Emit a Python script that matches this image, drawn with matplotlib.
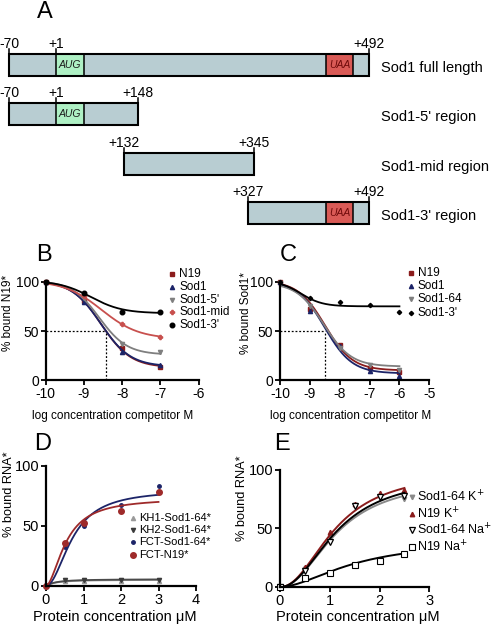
import numpy as np
import matplotlib
matplotlib.use('Agg')
import matplotlib.pyplot as plt
from matplotlib.lines import Line2D
from matplotlib.patches import Rectangle

plt.rcParams['font.family'] = ['Liberation Sans', 'DejaVu Sans']
plt.rcParams['axes.unicode_minus'] = False

# ---------------- Panel A data (schematic, not to scale) ----------------
nt_pos = {'-70': 0, '+1': 47, '+132': 115, '+148': 129, '+327': 239, '+345': 245, '+492': 360}
aug_span = [47, 75]
uaa_span = [317, 344]
construct_names = ['Sod1 full length', "Sod1-5' region", 'Sod1-mid region', "Sod1-3' region"]
construct_start = ['-70', '-70', '+132', '+327']
construct_end = ['+492', '+148', '+345', '+492']
construct_marks = [['-70', '+1', '+492'], ['-70', '+1', '+148'], ['+132', '+345'], ['+327', '+492']]

# ---------------- Panel B data ----------------
b_x = [-10, -9, -8, -7]
b_n19 = [100, 80, 33, 13]
b_sod1 = [100, 79, 29, 16]
b_sod1_5 = [99, 83, 37, 29]
b_sod1_mid = [100, 86, 57, 44]
b_sod1_3 = [100, 89, 69, 69]
# fit parameters: top, bottom, logEC50, hill
b_fit_n19 = [101, 13, -8.55, 1.12]
b_fit_sod1 = [101, 14, -8.56, 1.12]
b_fit_sod1_5 = [101, 26, -8.60, 1.19]
b_fit_sod1_mid = [101, 42, -8.54, 0.89]
b_fit_sod1_3 = [101, 68, -8.82, 1.05]
b_ic50 = -8.43

# ---------------- Panel C data ----------------
c_x = [-10, -9, -8, -7, -6]
c_n19 = [100, 72, 36, 12, 8]
c_sod1 = [100, 70, 35, 9, 4]
c_sod1_64 = [99, 75, 33, 16, 10]
c_sod1_3 = [100, 83, 79, 76, 69]
c_fit_n19 = [101, 10, -8.49, 0.95]
c_fit_sod1 = [100, 7, -8.50, 0.95]
c_fit_sod1_64 = [99, 14, -8.53, 0.95]
c_fit_sod1_3 = [101, 75, -9.3, 1.2]
c_ic50 = -8.49

# ---------------- Panel D data ----------------
d_x = [0, 0.5, 1, 2, 3]
d_kh1 = [0, 4, 4, 4, 4]
d_kh2 = [0, 5, 5, 5, 5]
d_fct_sod1 = [0, 32, 50, 67, 83]
d_fct_n19 = [0, 36, 52, 62, 78]
# fit parameters: Bmax, K, hill
d_fit_kh1 = [5.0, 0.25, 1.2]
d_fit_kh2 = [5.5, 0.25, 1.2]
d_fit_fct_sod1 = [80, 0.714, 2.0]
d_fit_fct_n19 = [73, 0.54, 1.8]

# ---------------- Panel E data ----------------
e_x = [0, 0.5, 1, 1.5, 2, 2.5]
e_sod1_k = [0, 15, 43, 70, 76, 75]
e_n19_k = [0, 17, 47, 71, 80, 83]
e_sod1_na = [0, 14, 38, 69, 77, 78]
e_n19_na = [0, 7.5, 12, 19, 22.5, 28.5]
e_fit_sod1_k = [93, 1.15, 2.1]
e_fit_n19_k = [100, 1.12, 2.1]
e_fit_sod1_na = [96, 1.15, 2.1]
e_fit_n19_na = [40, 1.5, 1.8]


def logistic(x, p):
    top, bottom, c, h = p
    return bottom + (top - bottom) / (1 + 10 ** ((x - c) * h))


def hill(x, p):
    bmax, k, h = p
    return bmax * x ** h / (k ** h + x ** h)


W, H = 491, 624
fig = plt.figure(figsize=(W / 100, H / 100), dpi=100)


def fx(px):
    return px / W


def fy(py):
    return 1 - py / H


# colors
DARKRED = '#8b1c1c'
NAVY = '#1c2468'
GRAY = '#7f7f7f'
LIGHTRED = '#c8504e'
BAR_FILL = '#b8cdd2'
AUG_FILL = '#aef0c4'
UAA_FILL = '#d95a56'

# ---------------- Panel A ----------------
axA = fig.add_axes([0, fy(235), 1, 235 / H])
axA.set_xlim(-9, 482)
row_px = 49.3
axA.set_ylim((235 - 65) / row_px, -65 / row_px)
axA.axis('off')
bh = 22 / row_px
for i, name in enumerate(construct_names):
    s = nt_pos[construct_start[i]]
    e = nt_pos[construct_end[i]]
    axA.add_patch(Rectangle((s, i - bh / 2), e - s, bh, facecolor=BAR_FILL,
                            edgecolor='none', zorder=1))
    if s <= aug_span[0] and e >= aug_span[1]:
        axA.add_patch(Rectangle((aug_span[0], i - bh / 2), aug_span[1] - aug_span[0], bh,
                                facecolor=AUG_FILL, edgecolor='black', lw=1.1, zorder=2))
        axA.text(np.mean(aug_span), i, 'AUG', ha='center', va='center', fontsize=7.5,
                 style='italic', color='#1a1a1a', zorder=3)
    if s <= uaa_span[0] and e >= uaa_span[1]:
        axA.add_patch(Rectangle((uaa_span[0], i - bh / 2), uaa_span[1] - uaa_span[0], bh,
                                facecolor=UAA_FILL, edgecolor='black', lw=1.1, zorder=2))
        axA.text(np.mean(uaa_span), i, 'UAA', ha='center', va='center', fontsize=7.5,
                 style='italic', color='#6e0a0a', zorder=3)
    axA.add_patch(Rectangle((s, i - bh / 2), e - s, bh, facecolor='none',
                            edgecolor='black', lw=1.5, zorder=4))
    for m in construct_marks[i]:
        xm = nt_pos[m]
        axA.plot([xm, xm], [i - bh / 2, i - bh / 2 - 5 / row_px], color='black', lw=1.1,
                 zorder=4)
        axA.text(xm, i - 21 / row_px, m, ha='center', va='center', fontsize=10)
    axA.text(372, i + 3 / row_px, name, ha='left', va='center', fontsize=10.5)

# ---------------- helpers ----------------
def style_axes(ax, tick_fs):
    for sp in ['top', 'right']:
        ax.spines[sp].set_visible(False)
    for sp in ['left', 'bottom']:
        ax.spines[sp].set_linewidth(1.6)
    ax.tick_params(direction='out', length=3.5, width=1.3, labelsize=tick_fs, pad=1.5)


def manual_legend(entries, xm, xt, y0, dy, fs):
    for k, (kw, label) in enumerate(entries):
        y = y0 + k * dy
        fig.lines.append(Line2D([fx(xm)], [fy(y)], transform=fig.transFigure,
                                linestyle='none', **kw))
        fig.text(fx(xt), fy(y), label, ha='left', va='center', fontsize=fs)


# ---------------- Panel B ----------------
axB = fig.add_axes([fx(45.7), fy(380.3), 153 / W, 98.6 / H])
style_axes(axB, 10)
xs = np.linspace(-10, -7, 200)
b_series = [
    (b_n19, b_fit_n19, DARKRED, dict(marker='s', markersize=2.6, color=DARKRED), 'N19'),
    (b_sod1, b_fit_sod1, NAVY, dict(marker='^', markersize=3.0, color=NAVY), 'Sod1'),
    (b_sod1_5, b_fit_sod1_5, GRAY, dict(marker='v', markersize=3.0, color=GRAY), "Sod1-5'"),
    (b_sod1_mid, b_fit_sod1_mid, LIGHTRED, dict(marker='P', markersize=3.0, color=LIGHTRED), 'Sod1-mid'),
    (b_sod1_3, b_fit_sod1_3, 'black', dict(marker='o', markersize=3.3, color='black'), "Sod1-3'"),
]
for ys, fit, col, mk, lab in b_series:
    axB.plot(xs, logistic(xs, fit), color=col, lw=1.3, clip_on=False)
    axB.plot(b_x, ys, linestyle='none', clip_on=False, **mk)
axB.plot([-10, b_ic50], [50, 50], color='black', lw=0.9, ls=(0, (1.5, 1.5)))
axB.plot([b_ic50, b_ic50], [0, 50], color='black', lw=0.9, ls=(0, (1.5, 1.5)))
axB.set_xlim(-10, -6)
axB.set_ylim(0, 100)
axB.set_xticks([-10, -9, -8, -7, -6])
axB.set_yticks([0, 50, 100])
axB.set_xlabel('log concentration competitor M', fontsize=8.5)
axB.set_ylabel('% bound N19*', fontsize=8.5)
axB.yaxis.set_label_coords(-0.205, 0.68)
axB.xaxis.set_label_coords(0.44, -0.3)
manual_legend([(mk, lab) for _, _, _, mk, lab in b_series], 172, 179, 274, 12.8, 8.5)

# ---------------- Panel C ----------------
axC = fig.add_axes([fx(280), fy(380.3), 149.3 / W, 98.6 / H])
style_axes(axC, 10)
xs = np.linspace(-10, -6, 200)
c_series = [
    (c_n19, c_fit_n19, DARKRED, dict(marker='s', markersize=2.6, color=DARKRED), 'N19'),
    (c_sod1, c_fit_sod1, NAVY, dict(marker='^', markersize=3.0, color=NAVY), 'Sod1'),
    (c_sod1_64, c_fit_sod1_64, GRAY, dict(marker='v', markersize=3.0, color=GRAY), 'Sod1-64'),
    (c_sod1_3, c_fit_sod1_3, 'black', dict(marker='D', markersize=2.2, color='black'), "Sod1-3'"),
]
for ys, fit, col, mk, lab in c_series:
    axC.plot(xs, logistic(xs, fit), color=col, lw=1.3, clip_on=False)
    axC.plot(c_x, ys, linestyle='none', clip_on=False, **mk)
axC.plot([-10, c_ic50], [50, 50], color='black', lw=0.9, ls=(0, (1.5, 1.5)))
axC.plot([c_ic50, c_ic50], [0, 50], color='black', lw=0.9, ls=(0, (1.5, 1.5)))
axC.set_xlim(-10, -5)
axC.set_ylim(0, 100)
axC.set_xticks([-10, -9, -8, -7, -6, -5])
axC.set_yticks([0, 50, 100])
axC.set_xlabel('log concentration competitor M', fontsize=8.5)
axC.set_ylabel('% bound Sod1*', fontsize=8.5)
axC.yaxis.set_label_coords(-0.19, 0.68)
axC.xaxis.set_label_coords(0.47, -0.3)
manual_legend([(mk, lab) for _, _, _, mk, lab in c_series], 411, 418, 273, 13.2, 8.5)

# ---------------- Panel D ----------------
axD = fig.add_axes([fx(46), fy(585.7), 150 / W, 120 / H])
style_axes(axD, 10.5)
xs = np.linspace(0, 3, 200)
d_series = [
    (d_kh1, d_fit_kh1, '#9a9a9a', dict(marker='^', markersize=3.0, color='#9a9a9a'), 'KH1-Sod1-64*'),
    (d_kh2, d_fit_kh2, '#4a4a4a', dict(marker='v', markersize=3.0, color='#3a3a3a'), 'KH2-Sod1-64*'),
    (d_fct_sod1, d_fit_fct_sod1, NAVY, dict(marker='o', markersize=2.5, color=NAVY), 'FCT-Sod1-64*'),
    (d_fct_n19, d_fit_fct_n19, '#9e2a2a', dict(marker='o', markersize=4.0, color='#9e2a2a'), 'FCT-N19*'),
]
for ys, fit, col, mk, lab in d_series:
    axD.plot(xs, hill(xs, fit), color=col, lw=1.3, clip_on=False)
    axD.plot(d_x, ys, linestyle='none', clip_on=False, **mk)
axD.set_xlim(0, 4)
axD.set_ylim(0, 100)
axD.set_xticks([0, 1, 2, 3, 4])
axD.set_yticks([0, 50, 100])
axD.set_xlabel('Protein concentration μM', fontsize=10.5)
axD.set_ylabel('% bound RNA*', fontsize=9.2)
axD.yaxis.set_label_coords(-0.205, 0.76)
axD.xaxis.set_label_coords(0.46, -0.2)
manual_legend([(mk, lab) for _, _, _, mk, lab in d_series], 133, 139, 518, 12.2, 8)

# ---------------- Panel E ----------------
axE = fig.add_axes([fx(280), fy(587), 149.3 / W, (587 - 469.7) / H])
style_axes(axE, 10.5)
xs = np.linspace(0, 2.5, 200)
e_series = [
    (e_sod1_k, e_fit_sod1_k, '#8a8a8a', dict(marker='v', markersize=3.2, color='#8a8a8a'), 'Sod1-64 K$^{+}$'),
    (e_n19_k, e_fit_n19_k, DARKRED, dict(marker='^', markersize=3.2, color=DARKRED), 'N19 K$^{+}$'),
    (e_sod1_na, e_fit_sod1_na, 'black', dict(marker='v', markersize=4.0, color='black',
                                              markerfacecolor='white', markeredgewidth=0.9), 'Sod1-64 Na$^{+}$'),
    (e_n19_na, e_fit_n19_na, 'black', dict(marker='s', markersize=4.0, color='black',
                                            markerfacecolor='white', markeredgewidth=0.8), 'N19 Na$^{+}$'),
]
for ys, fit, col, mk, lab in e_series:
    axE.plot(xs, hill(xs, fit), color=col, lw=1.4, clip_on=False)
    axE.plot(e_x, ys, linestyle='none', clip_on=False, **mk)
axE.set_xlim(0, 3)
axE.set_ylim(0, 100)
axE.set_xticks([0, 1, 2, 3])
axE.set_yticks([0, 50, 100])
axE.set_xlabel('Protein concentration μM', fontsize=10.5)
axE.set_ylabel('% bound RNA*', fontsize=9.2)
axE.yaxis.set_label_coords(-0.215, 0.76)
axE.xaxis.set_label_coords(0.52, -0.2)
manual_legend([(mk, lab) for _, _, _, mk, lab in e_series], 412, 417, 497, 16.5, 9)

# ---------------- panel letters ----------------
for letter, (px, py) in zip('ABCDE', [(45, 12), (44, 255), (288, 255), (43, 444), (282, 444)]):
    fig.text(fx(px), fy(py), letter, ha='center', va='center', fontsize=17)

fig.savefig('out.png', dpi=100)
